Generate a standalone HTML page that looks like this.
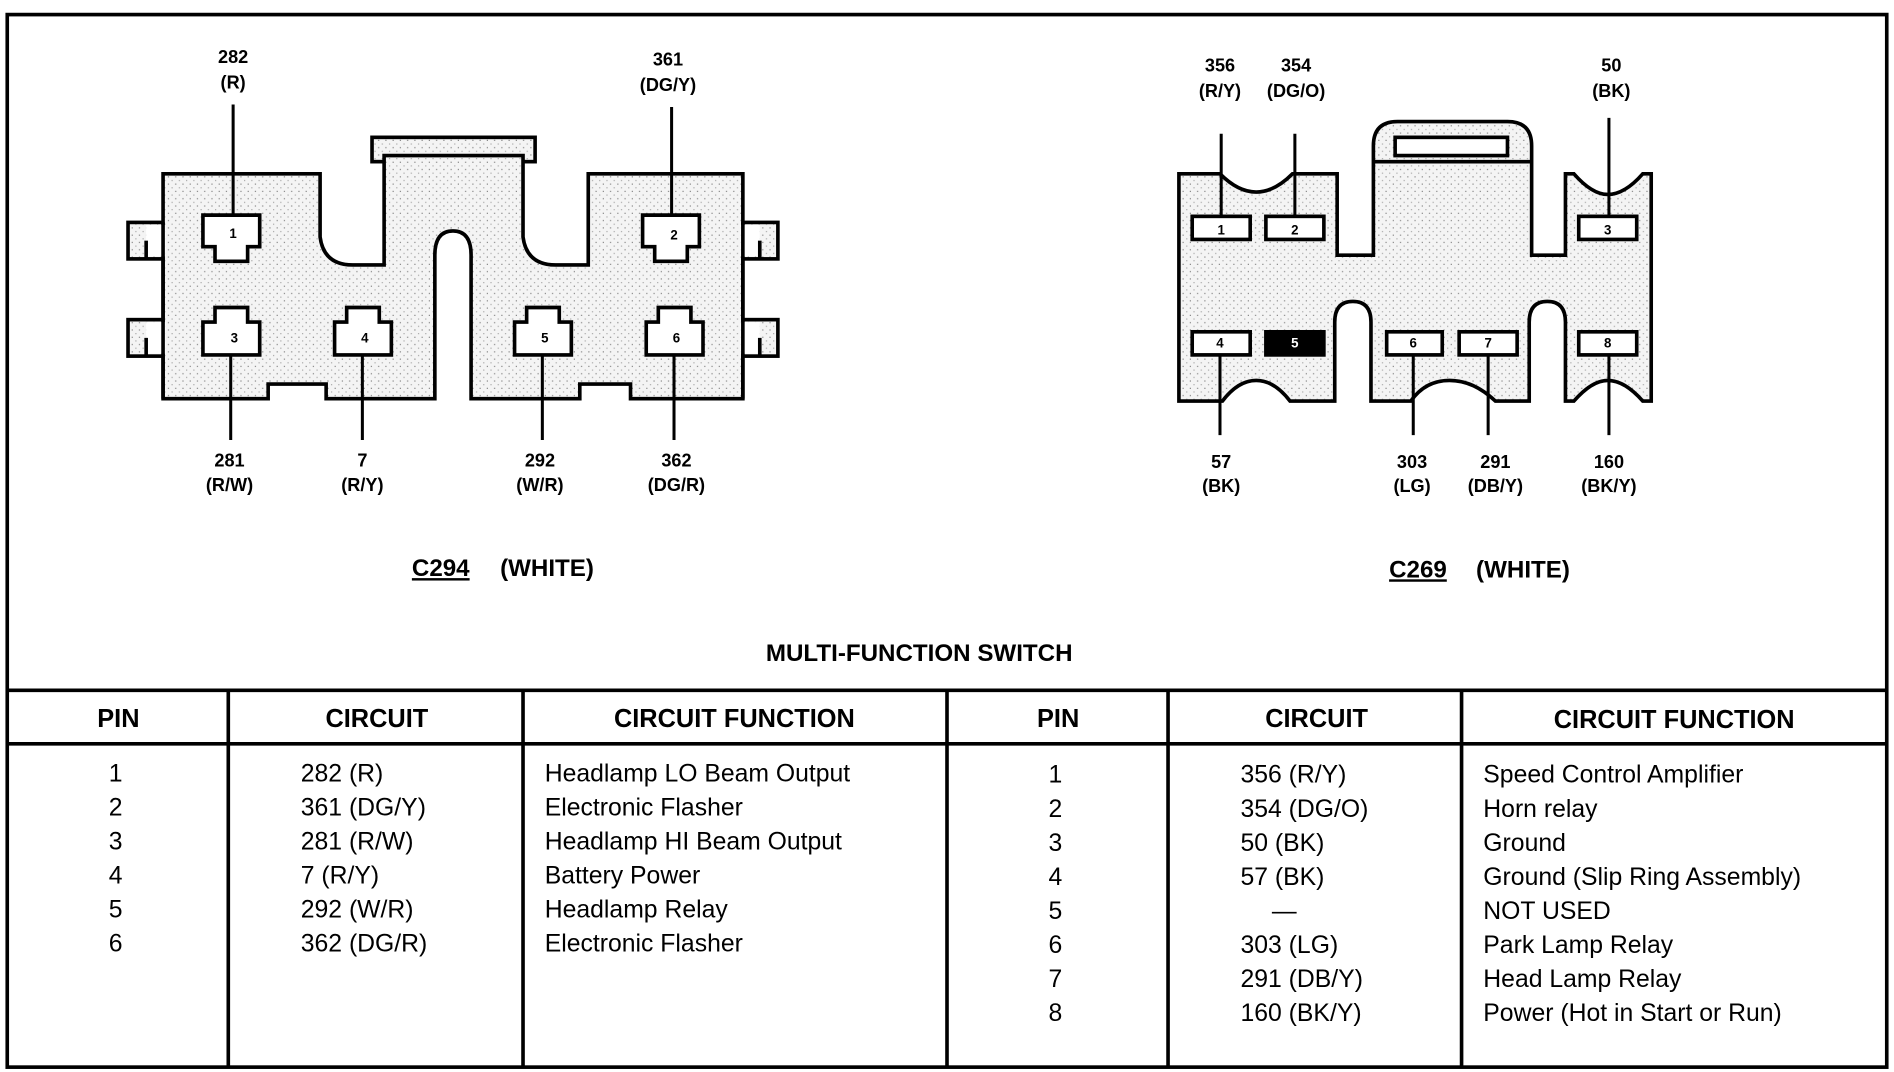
<!DOCTYPE html>
<html><head><style>
html,body{margin:0;padding:0;background:#fff;}
svg{display:block;}
text{font-family:"Liberation Sans",Arial,sans-serif;fill:#000;}
.lb{font-weight:bold;font-size:15px;text-anchor:middle;}
.pn{font-weight:bold;font-size:11px;text-anchor:middle;}
.hd{font-weight:bold;font-size:21px;text-anchor:middle;}
.td{font-size:20.5px;}
</style></head><body>
<svg width="1894" height="1072" viewBox="0 0 1568 882" preserveAspectRatio="none" xmlns="http://www.w3.org/2000/svg">
<defs>
<pattern id="dots" width="6" height="6" patternUnits="userSpaceOnUse">
<rect width="6" height="6" fill="#f4f4f4"/>
<rect x="1" y="1" width="1" height="1" fill="#888"/>
<rect x="4" y="4" width="1" height="1" fill="#aaa"/>
</pattern>
</defs>
<rect x="6" y="12" width="1556" height="866" fill="none" stroke="#000" stroke-width="3"/>

<!-- C294 connector -->
<g stroke="#000" stroke-width="3" fill="url(#dots)">
<rect x="308" y="113" width="135" height="20"/>
<rect x="106" y="183" width="30" height="30"/>
<rect x="106" y="263" width="30" height="30"/>
<rect x="614" y="183" width="30" height="30"/>
<rect x="614" y="263" width="30" height="30"/>
<path d="M135,143 L265,143 L265,195 Q268,218 292,218 L318,218 L318,128 L433,128 L433,195 Q436,218 460,218 L487,218 L487,143 L615,143 L615,328 L522,328 L522,316 L480,316 L480,328 L390,328 L390,210 Q390,190 375,190 Q360,190 360,210 L360,328 L270,328 L270,316 L222,316 L222,328 L135,328 Z"/>
</g>
<rect x="121" y="185" width="16" height="26" fill="#fff"/>
<rect x="121" y="265" width="16" height="26" fill="#fff"/>
<rect x="613" y="185" width="16" height="26" fill="#fff"/>
<rect x="613" y="265" width="16" height="26" fill="#fff"/>
<g stroke="#000" stroke-width="3" fill="none">
<line x1="121" y1="198" x2="121" y2="213"/><line x1="121" y1="278" x2="121" y2="293"/>
<line x1="629" y1="198" x2="629" y2="213"/><line x1="629" y1="278" x2="629" y2="293"/>
<line x1="135" y1="183" x2="135" y2="328"/><line x1="615" y1="183" x2="615" y2="328"/>
</g>
<g stroke="#000" stroke-width="2.5">
<line x1="193" y1="86" x2="193" y2="180"/><line x1="556" y1="88" x2="556" y2="180"/>
<line x1="191" y1="290" x2="191" y2="362"/><line x1="300" y1="290" x2="300" y2="362"/>
<line x1="449" y1="290" x2="449" y2="362"/><line x1="558" y1="290" x2="558" y2="362"/>
</g>
<!-- pins C294 -->
<g stroke="#000" stroke-width="3" fill="#fff">
<path d="M168,177 L215,177 L215,203 L205,203 L205,215 L178,215 L178,203 L168,203 Z"/>
<path d="M532,177 L579,177 L579,203 L569,203 L569,215 L542,215 L542,203 L532,203 Z"/>
<path d="M178,253 L205,253 L205,265 L215,265 L215,292 L168,292 L168,265 L178,265 Z"/>
<path d="M287,253 L314,253 L314,265 L324,265 L324,292 L277,292 L277,265 L287,265 Z"/>
<path d="M436,253 L463,253 L463,265 L473,265 L473,292 L426,292 L426,265 L436,265 Z"/>
<path d="M545,253 L572,253 L572,265 L582,265 L582,292 L535,292 L535,265 L545,265 Z"/>
</g>
<text x="193" y="196" class="pn">1</text><text x="558" y="197" class="pn">2</text><text x="194" y="282" class="pn">3</text><text x="302" y="282" class="pn">4</text><text x="451" y="282" class="pn">5</text><text x="560" y="282" class="pn">6</text>
<text class="lb" x="193" y="52">282</text><text class="lb" x="193" y="73">(R)</text>
<text class="lb" x="553" y="54">361</text><text class="lb" x="553" y="75">(DG/Y)</text>
<text class="lb" x="190" y="384">281</text><text class="lb" x="190" y="404">(R/W)</text>
<text class="lb" x="300" y="384">7</text><text class="lb" x="300" y="404">(R/Y)</text>
<text class="lb" x="447" y="384">292</text><text class="lb" x="447" y="404">(W/R)</text>
<text class="lb" x="560" y="384">362</text><text class="lb" x="560" y="404">(DG/R)</text>
<text x="341" y="474" style="font-weight:bold;font-size:20px;text-decoration:underline">C294</text>
<text x="414" y="474" style="font-weight:bold;font-size:20px">(WHITE)</text>

<!-- C269 connector -->
<g stroke="#000" stroke-width="3" fill="url(#dots)">
<path d="M1137,143 L1137,120 Q1137,100 1157,100 L1248,100 Q1268,100 1268,120 L1268,210 L1296,210 L1296,143 L1303,143 Q1318,160 1331,160 Q1345,160 1360,143 L1367,143 L1367,330 L1360,330 Q1345,313 1331,313 Q1318,313 1303,330 L1296,330 L1296,265 Q1296,248 1281,248 Q1266,248 1266,265 L1266,330 L1238,330 Q1220,313 1200,313 Q1180,313 1168,330 L1135,330 L1135,265 Q1135,248 1120,248 Q1105,248 1105,265 L1105,330 L1068,330 Q1055,313 1040,313 Q1025,313 1012,330 L976,330 L976,143 L1010,143 Q1025,158 1040,158 Q1055,158 1070,143 L1107,143 L1107,210 L1137,210 Z"/>
<rect x="1155" y="113" width="93" height="15" fill="#fff"/>
</g>
<line x1="1137" y1="133" x2="1268" y2="133" stroke="#000" stroke-width="3"/>
<g stroke="#000" stroke-width="2.5">
<line x1="1011" y1="110" x2="1011" y2="180"/><line x1="1072" y1="110" x2="1072" y2="180"/><line x1="1332" y1="97" x2="1332" y2="180"/>
<line x1="1010" y1="290" x2="1010" y2="358"/><line x1="1170" y1="290" x2="1170" y2="358"/><line x1="1232" y1="290" x2="1232" y2="358"/><line x1="1332" y1="290" x2="1332" y2="358"/>
</g>
<g stroke="#000" stroke-width="3" fill="#fff">
<rect x="987" y="178" width="48" height="19"/><rect x="1048" y="178" width="48" height="19"/><rect x="1307" y="178" width="48" height="19"/>
<rect x="987" y="273" width="48" height="19"/><rect x="1048" y="273" width="48" height="19" fill="#000"/>
<rect x="1148" y="273" width="46" height="19"/><rect x="1208" y="273" width="48" height="19"/><rect x="1307" y="273" width="48" height="19"/>
</g>
<text class="pn" x="1011" y="193">1</text><text class="pn" x="1072" y="193">2</text><text class="pn" x="1331" y="193">3</text>
<text class="pn" x="1010" y="286">4</text><text class="pn" x="1072" y="286" style="fill:#fff">5</text><text class="pn" x="1170" y="286">6</text><text class="pn" x="1232" y="286">7</text><text class="pn" x="1331" y="286">8</text>
<text class="lb" x="1010" y="59">356</text><text class="lb" x="1010" y="80">(R/Y)</text>
<text class="lb" x="1073" y="59">354</text><text class="lb" x="1073" y="80">(DG/O)</text>
<text class="lb" x="1334" y="59">50</text><text class="lb" x="1334" y="80">(BK)</text>
<text class="lb" x="1011" y="385">57</text><text class="lb" x="1011" y="405">(BK)</text>
<text class="lb" x="1169" y="385">303</text><text class="lb" x="1169" y="405">(LG)</text>
<text class="lb" x="1238" y="385">291</text><text class="lb" x="1238" y="405">(DB/Y)</text>
<text class="lb" x="1332" y="385">160</text><text class="lb" x="1332" y="405">(BK/Y)</text>
<text x="1150" y="475" style="font-weight:bold;font-size:20px;text-decoration:underline">C269</text>
<text x="1222" y="475" style="font-weight:bold;font-size:20px">(WHITE)</text>

<text class="hd" x="761" y="544" style="font-size:20px">MULTI-FUNCTION SWITCH</text>

<!-- table -->
<g stroke="#000" stroke-width="3">
<line x1="6" y1="568" x2="1562" y2="568"/><line x1="6" y1="612" x2="1562" y2="612"/>
<line x1="189" y1="568" x2="189" y2="878"/><line x1="433" y1="568" x2="433" y2="878"/>
<line x1="784" y1="568" x2="784" y2="878"/><line x1="967" y1="568" x2="967" y2="878"/>
<line x1="1210" y1="568" x2="1210" y2="878"/>
</g>
<text class="hd" x="98" y="598">PIN</text><text class="hd" x="312" y="598">CIRCUIT</text><text class="hd" x="608" y="598">CIRCUIT FUNCTION</text>
<text class="hd" x="876" y="598">PIN</text><text class="hd" x="1090" y="598">CIRCUIT</text><text class="hd" x="1386" y="599">CIRCUIT FUNCTION</text>
<g class="td">
<text x="90" y="643">1</text><text x="90" y="671">2</text><text x="90" y="699">3</text><text x="90" y="727">4</text><text x="90" y="755">5</text><text x="90" y="783">6</text>
<text x="249" y="643">282 (R)</text><text x="249" y="671">361 (DG/Y)</text><text x="249" y="699">281 (R/W)</text><text x="249" y="727">7 (R/Y)</text><text x="249" y="755">292 (W/R)</text><text x="249" y="783">362 (DG/R)</text>
<text x="451" y="643">Headlamp LO Beam Output</text><text x="451" y="671">Electronic Flasher</text><text x="451" y="699">Headlamp HI Beam Output</text><text x="451" y="727">Battery Power</text><text x="451" y="755">Headlamp Relay</text><text x="451" y="783">Electronic Flasher</text>
<text x="868" y="644">1</text><text x="868" y="672">2</text><text x="868" y="700">3</text><text x="868" y="728">4</text><text x="868" y="756">5</text><text x="868" y="784">6</text><text x="868" y="812">7</text><text x="868" y="840">8</text>
<text x="1027" y="644">356 (R/Y)</text><text x="1027" y="672">354 (DG/O)</text><text x="1027" y="700">50 (BK)</text><text x="1027" y="728">57 (BK)</text><text x="1053" y="756">—</text><text x="1027" y="784">303 (LG)</text><text x="1027" y="812">291 (DB/Y)</text><text x="1027" y="840">160 (BK/Y)</text>
<text x="1228" y="644">Speed Control Amplifier</text><text x="1228" y="672">Horn relay</text><text x="1228" y="700">Ground</text><text x="1228" y="728">Ground (Slip Ring Assembly)</text><text x="1228" y="756">NOT USED</text><text x="1228" y="784">Park Lamp Relay</text><text x="1228" y="812">Head Lamp Relay</text><text x="1228" y="840">Power (Hot in Start or Run)</text>
</g>
</svg>
</body></html>
